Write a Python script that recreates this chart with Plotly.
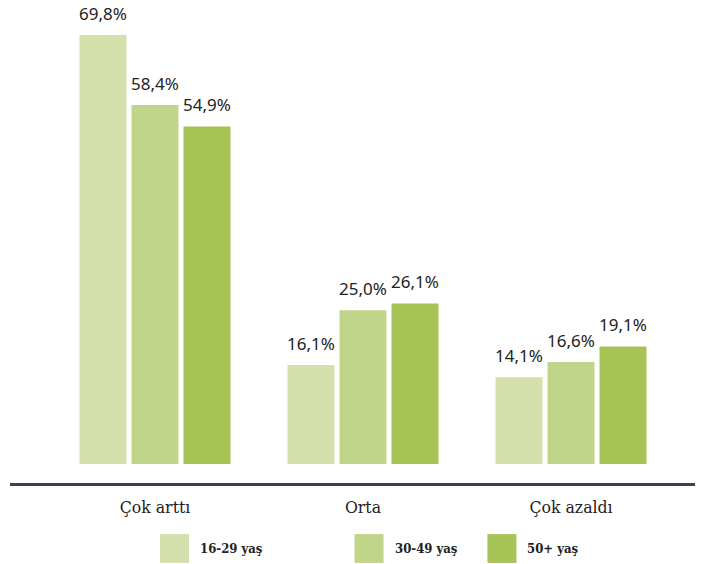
import plotly.graph_objects as go

categories = ["Çok arttı", "Orta", "Çok azaldı"]
series_names = ["16-29 yaş", "30-49 yaş", "50+ yaş"]
values_16_29 = [69.8, 16.1, 14.1]
values_30_49 = [58.4, 25.0, 16.6]
values_50p = [54.9, 26.1, 19.1]

colors = ["#d3e0ab", "#c1d58a", "#a6c356"]

fig = go.Figure()
for name, vals, col in zip(series_names, [values_16_29, values_30_49, values_50p], colors):
    fig.add_trace(go.Bar(
        x=categories,
        y=vals,
        name=name,
        offsetgroup=name,
        marker_color=col,
        marker_line_width=0,
        showlegend=False,
        hoverinfo="skip",
    ))
    # value labels: invisible markers push the text a bit higher above the bar
    fig.add_trace(go.Scatter(
        x=categories,
        y=vals,
        offsetgroup=name,
        mode="markers+text",
        marker=dict(size=16, opacity=0),
        text=[f"{v:.1f}%".replace(".", ",") for v in vals],
        textposition="top center",
        textfont=dict(family="Noto Sans", size=17, color="#222222"),
        cliponaxis=False,
        showlegend=False,
        hoverinfo="skip",
    ))

# legend drawn by hand: big squares + labels
legend_x = [0.219, 0.503, 0.697]
for name, col, lx in zip(series_names, colors, legend_x):
    fig.add_shape(type="rect", xref="paper", yref="paper",
                  x0=lx, x1=lx + 0.0423, y0=-0.169, y1=-0.108,
                  fillcolor=col, line_width=0)
    fig.add_annotation(xref="paper", yref="paper", x=lx + 0.0555, y=-0.1385,
                       text=name, showarrow=False, xanchor="left", yanchor="middle",
                       font=dict(family="DejaVu Serif Condensed", size=13, color="#222222", weight="bold"))

fig.update_layout(
    width=703, height=564,
    margin=dict(l=10, r=8, t=10, b=81),
    paper_bgcolor="white",
    plot_bgcolor="white",
    barmode="group",
    bargap=0.25,
    bargroupgap=0.096,
    scattermode="group",
    scattergap=0.25,
    showlegend=False,
    hovermode=False,
    xaxis=dict(
        range=[-0.697, 2.596],
        showline=True, linecolor="#3b3f5a", linewidth=2.5,
        showgrid=False, zeroline=False,
        ticks="", ticklabelstandoff=6,
        tickfont=dict(family="DejaVu Serif Condensed", size=17.5, color="#222222"),
    ),
    yaxis=dict(
        range=[-3.09, 73.87],
        visible=False, showgrid=False, zeroline=False,
    ),
)

# drop the default 8px body margin so the figure sits at the page corner
fig.write_html("out.html", config={"displayModeBar": False},
               post_script="document.body.style.margin='0';")
